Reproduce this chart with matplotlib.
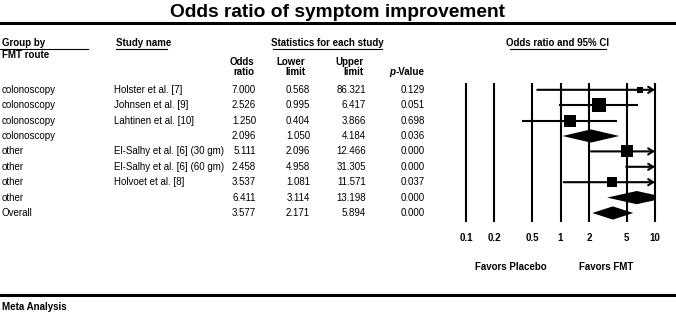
import matplotlib.pyplot as plt
import numpy as np

plt.rcParams['font.family'] = ['Liberation Sans', 'DejaVu Sans']

# data
groups = ['colonoscopy', 'colonoscopy', 'colonoscopy', 'colonoscopy',
          'other', 'other', 'other', 'other', 'Overall']
studies = ['Holster et al. [7]', 'Johnsen et al. [9]', 'Lahtinen et al. [10]', '',
           'El-Salhy et al. [6] (30 gm)', 'El-Salhy et al. [6] (60 gm)',
           'Holvoet et al. [8]', '', '']
odds = [7.000, 2.526, 1.250, 2.096, 5.111, 2.458, 3.537, 6.411, 3.577]
lower = [0.568, 0.995, 0.404, 1.050, 2.096, 4.958, 1.081, 3.114, 2.171]
upper = [86.321, 6.417, 3.866, 4.184, 12.466, 31.305, 11.571, 13.198, 5.894]
pvals = [0.129, 0.051, 0.698, 0.036, 0.000, 0.000, 0.037, 0.000, 0.000]
is_summary = [False, False, False, True, False, False, False, True, True]
# relative study weight -> square size (pt)
weights = [4.3, 9.4, 8.0, 0, 8.0, 0, 6.8, 0, 0]
ticks = [0.1, 0.2, 0.5, 1, 2, 5, 10]
tick_labels = ['0.1', '0.2', '0.5', '1', '2', '5', '10']

W, H = 676, 314
fig = plt.figure(figsize=(W / 100, H / 100), dpi=100)

# text layer in pixel coordinates
tax = fig.add_axes([0, 0, 1, 1])
tax.set_xlim(0, W)
tax.set_ylim(H, 0)
tax.axis('off')

fs = 7.0
tax.text(338, 17, 'Odds ratio of symptom improvement', ha='center', va='baseline',
         fontsize=13.8, fontweight='bold')
tax.plot([0, W], [23, 23], color='black', lw=2.2)
tax.plot([0, W], [295, 295], color='black', lw=2.2)
tax.text(2, 307, 'Meta Analysis', ha='left', va='center', fontsize=fs, fontweight='bold')

# column headers
tax.text(2, 43.5, 'Group by', ha='left', va='center', fontsize=fs, fontweight='bold')
tax.text(2, 54.5, 'FMT route', ha='left', va='center', fontsize=fs, fontweight='bold')
tax.plot([0, 88], [49, 49], color='black', lw=0.8)
tax.text(116, 43.5, 'Study name', ha='left', va='center', fontsize=fs, fontweight='bold')
tax.plot([116, 167], [49, 49], color='black', lw=0.8)
tax.text(327, 43.5, 'Statistics for each study', ha='center', va='center', fontsize=fs,
         fontweight='bold')
tax.plot([273, 382], [49, 49], color='black', lw=0.8)
tax.text(558, 43.5, 'Odds ratio and 95% CI', ha='center', va='center', fontsize=fs,
         fontweight='bold')
tax.plot([510, 606], [49, 49], color='black', lw=0.8)

col_x = [256, 310, 366, 425]
head_x = [254, 305, 363]
for x, top, bot in zip(head_x, ['Odds', 'Lower', 'Upper'], ['ratio', 'limit', 'limit']):
    tax.text(x, 62, top, ha='right', va='center', fontsize=fs, fontweight='bold')
    tax.text(x, 72, bot, ha='right', va='center', fontsize=fs, fontweight='bold')
tax.text(425, 72, '-Value', ha='right', va='center', fontsize=fs, fontweight='bold')
tax.text(395, 72, 'p', ha='right', va='center', fontsize=fs, fontweight='bold',
         style='italic')

y0, dy = 89.8, 15.4
for i in range(len(groups)):
    y = y0 + i * dy
    tax.text(2, y, groups[i], ha='left', va='center', fontsize=fs)
    tax.text(114, y, studies[i], ha='left', va='center', fontsize=fs)
    for x, v in zip(col_x, [odds[i], lower[i], upper[i], pvals[i]]):
        tax.text(x, y, f'{v:.3f}', ha='right', va='center', fontsize=fs)

# forest plot axes: x from 466 to 655 px, y from 83 to 222 px
left, right, top, bottom = 466, 655, 83, 222
ax = fig.add_axes([left / W, (H - bottom) / H, (right - left) / W, (bottom - top) / H])
ax.set_xscale('log')
ax.set_xlim(0.1, 10)
n = len(groups)
ylo = (bottom - y0) / dy
yhi = (top - y0) / dy
ax.set_ylim(ylo, yhi)
ax.patch.set_alpha(0)
for s in ax.spines.values():
    s.set_visible(False)
ax.set_yticks([])
ax.vlines(ticks, ylo, yhi, color='black', lw=1.5, clip_on=False)
ax.set_xticks(ticks)
ax.set_xticklabels(tick_labels, fontsize=fs, fontweight='bold')
ax.minorticks_off()
ax.tick_params(axis='x', length=0, pad=8)

xmax = 10
for i in range(n):
    lo, hi, m = lower[i], upper[i], odds[i]
    if is_summary[i]:
        hh = 0.43
        xs = [lo, m, min(hi, 40), m]
        ys = [i, i - hh, i, i + hh]
        ax.fill(xs, ys, color='black', lw=0, clip_on=True)
        if hi > xmax:
            ax.annotate('', xy=(xmax, i), xytext=(m, i),
                        arrowprops=dict(arrowstyle='->,head_length=0.35,head_width=0.22',
                                        lw=1.2, color='black', shrinkA=0, shrinkB=0),
                        annotation_clip=False)
        continue
    if hi > xmax:
        ax.annotate('', xy=(xmax, i), xytext=(lo, i),
                    arrowprops=dict(arrowstyle='->,head_length=0.35,head_width=0.22',
                                    lw=1.5, color='black', shrinkA=0, shrinkB=0),
                    annotation_clip=False)
    else:
        ax.plot([lo, hi], [i, i], color='black', lw=1.5)
    if weights[i] > 0:
        ax.plot([m], [i], marker='s', ms=weights[i], color='black', mew=0)

fig.text(511 / W, 1 - 266.5 / H, 'Favors Placebo', ha='center', va='center',
         fontsize=fs, fontweight='bold')
fig.text(606 / W, 1 - 266.5 / H, 'Favors FMT', ha='center', va='center',
         fontsize=fs, fontweight='bold')

fig.savefig('out.png', dpi=100)
